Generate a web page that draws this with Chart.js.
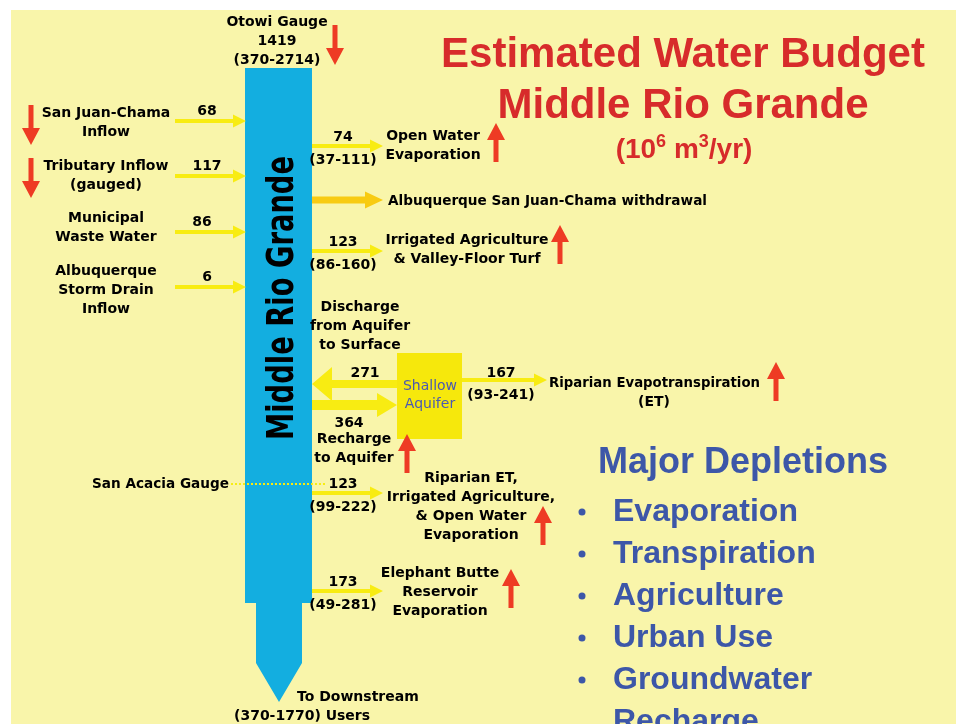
<!DOCTYPE html>
<html>
<head>
<meta charset="utf-8">
<script src="https://cdn.jsdelivr.net/npm/chart.js@4"></script>
<style>
  html, body { margin: 0; padding: 0; background: #fff; }
  #wrap { width: 956px; height: 724px; }
</style>
</head>
<body>
<div id="wrap"><canvas id="budget"></canvas></div>
<script>
// flows in 10^6 m^3/yr
const otowiName = "Otowi Gauge";
const otowiValue = 1419;
const otowiRange = "370-2714";
const downstreamRange = "370-1770";

const inflowNames = [["San Juan-Chama", "Inflow"], ["Tributary Inflow", "(gauged)"], ["Municipal", "Waste Water"], ["Albuquerque", "Storm Drain", "Inflow"]];
const inflowValues = [68, 117, 86, 6];
const inflowDeclining = [true, true, false, false];

const outflowNames = [["Open Water", "Evaporation"], ["Albuquerque San Juan-Chama withdrawal"], ["Irrigated Agriculture", "& Valley-Floor Turf"], ["Riparian ET,", "Irrigated Agriculture,", "& Open Water", "Evaporation"], ["Elephant Butte", "Reservoir", "Evaporation"]];
const outflowValues = [74, null, 123, 123, 173];
const outflowRanges = ["37-111", null, "86-160", "99-222", "49-281"];
const outflowRising = [true, false, true, true, true];

const dischargeValue = 271;
const rechargeValue = 364;
const riparianValue = 167;
const riparianRange = "93-241";

const titleLines = ["Estimated Water Budget", "Middle Rio Grande"];
const depletionsTitle = "Major Depletions";
const majorDepletions = ["Evaporation", "Transpiration", "Agriculture", "Urban Use", "Groundwater", "Recharge"];

// layout (pixel units of the hidden linear scales)
const inflowArrowY = [121, 176, 232, 287];
const inflowLabelY = [117, 170, 222, 275];
const inflowValueX = [207, 207, 202, 207];
const outflowArrowY = [146, 200, 251, 493, 591];
const outflowLabelX = [433, 388, 467, 471, 440];
const outflowLabelY = [140, 205, 244, 482, 577];
const outflowTrendX = [496, null, 560, 543, 511];
const outflowTrendTop = [123, null, 225, 506, 569];

const RED = "#EE3B24", YELLOW = "#F8EC12", GOLD = "#F8CB12", RIVER = "#13AEE0";
const PANEL = "#F9F5AA", TITLE = "#D72B2B", NAVY = "#3D57A8", BOX = "#F6E80C";
const COMIC = "bold 14px 'DejaVu Sans'";

function arrow(ctx, x1, y1, x2, y2, shaft, headW, headL, color) {
  const len = Math.hypot(x2 - x1, y2 - y1);
  const ux = (x2 - x1) / len, uy = (y2 - y1) / len;
  const px = -uy, py = ux;
  const bx = x2 - ux * headL, by = y2 - uy * headL;
  ctx.fillStyle = color;
  ctx.beginPath();
  ctx.moveTo(x1 + px * shaft / 2, y1 + py * shaft / 2);
  ctx.lineTo(bx + px * shaft / 2, by + py * shaft / 2);
  ctx.lineTo(bx + px * headW / 2, by + py * headW / 2);
  ctx.lineTo(x2, y2);
  ctx.lineTo(bx - px * headW / 2, by - py * headW / 2);
  ctx.lineTo(bx - px * shaft / 2, by - py * shaft / 2);
  ctx.lineTo(x1 - px * shaft / 2, y1 - py * shaft / 2);
  ctx.closePath();
  ctx.fill();
}

function lines(ctx, arr, x, y, lh, align, maxW) {
  ctx.textAlign = align || "center";
  arr.forEach((t, i) => {
    if (maxW) ctx.fillText(t, x, y + i * lh, maxW);
    else ctx.fillText(t, x, y + i * lh);
  });
}

const diagram = {
  id: "diagram",
  beforeDraw(chart) {
    const X = v => chart.scales.x.getPixelForValue(v);
    const Y = v => chart.scales.y.getPixelForValue(v);
    const ctx = chart.ctx;
    ctx.save();
    ctx.fillStyle = "#fff";
    ctx.fillRect(X(0), Y(0), X(956) - X(0), Y(724) - Y(0));
    ctx.fillStyle = PANEL;
    ctx.fillRect(X(11), Y(10), X(956) - X(11), Y(724) - Y(10));
    ctx.restore();
  },
  afterDraw(chart) {
    const X = v => chart.scales.x.getPixelForValue(v);
    const Y = v => chart.scales.y.getPixelForValue(v);
    const ctx = chart.ctx;
    ctx.save();
    ctx.textBaseline = "alphabetic";

    // river column
    ctx.fillStyle = RIVER;
    ctx.beginPath();
    ctx.moveTo(X(245), Y(68));
    ctx.lineTo(X(312), Y(68));
    ctx.lineTo(X(312), Y(603));
    ctx.lineTo(X(302), Y(603));
    ctx.lineTo(X(302), Y(663));
    ctx.lineTo(X(279), Y(702));
    ctx.lineTo(X(256), Y(663));
    ctx.lineTo(X(256), Y(603));
    ctx.lineTo(X(245), Y(603));
    ctx.closePath();
    ctx.fill();

    // vertical river name
    ctx.save();
    ctx.translate(X(280), Y(298));
    ctx.rotate(-Math.PI / 2);
    ctx.fillStyle = "#000";
    ctx.font = "bold 38px 'DejaVu Sans'";
    const name = "Middle Rio Grande";
    const w = ctx.measureText(name).width;
    ctx.scale(284 / w, 1);
    ctx.textAlign = "center";
    ctx.fillText(name, 0, 13);
    ctx.restore();

    ctx.font = COMIC;
    ctx.fillStyle = "#000";

    // Otowi gauge
    lines(ctx, [otowiName, String(otowiValue), "(" + otowiRange + ")"], X(277), Y(26), 19);
    arrow(ctx, X(335), Y(25), X(335), Y(65), 5, 18, 17, RED);

    // inflows
    inflowNames.forEach((nm, i) => {
      ctx.fillStyle = "#000";
      lines(ctx, nm, X(106), Y(inflowLabelY[i]), 19);
      ctx.textAlign = "center";
      ctx.fillText(String(inflowValues[i]), X(inflowValueX[i]), Y(inflowArrowY[i] - 6));
      arrow(ctx, X(175), Y(inflowArrowY[i]), X(246), Y(inflowArrowY[i]), 4, 13, 13, YELLOW);
      if (inflowDeclining[i]) {
        const top = inflowLabelY[i] - 12;
        arrow(ctx, X(31), Y(top), X(31), Y(top + 40), 5, 18, 17, RED);
      }
    });

    // outflows
    outflowNames.forEach((nm, i) => {
      const ay = outflowArrowY[i];
      ctx.fillStyle = "#000";
      if (outflowValues[i] === null) {
        arrow(ctx, X(312), Y(ay), X(383), Y(ay), 7, 17, 18, GOLD);
        ctx.fillStyle = "#000";
        lines(ctx, nm, X(outflowLabelX[i]), Y(outflowLabelY[i]), 19, "left", 319);
        return;
      }
      ctx.textAlign = "center";
      ctx.fillText(String(outflowValues[i]), X(343), Y(ay - 5));
      ctx.fillText("(" + outflowRanges[i] + ")", X(343), Y(ay + 18));
      lines(ctx, nm, X(outflowLabelX[i]), Y(outflowLabelY[i]), 19);
      arrow(ctx, X(312), Y(ay), X(383), Y(ay), 4, 13, 13, YELLOW);
      if (outflowRising[i]) {
        const top = outflowTrendTop[i];
        arrow(ctx, X(outflowTrendX[i]), Y(top + 39), X(outflowTrendX[i]), Y(top), 5, 18, 17, RED);
      }
    });

    // shallow aquifer exchange
    ctx.fillStyle = BOX;
    ctx.fillRect(X(397), Y(353), X(462) - X(397), Y(439) - Y(353));
    arrow(ctx, X(397), Y(384), X(312), Y(384), 8, 34, 20, YELLOW);
    arrow(ctx, X(312), Y(405), X(397), Y(405), 10, 24, 20, YELLOW);
    arrow(ctx, X(462), Y(380), X(547), Y(380), 4, 13, 13, YELLOW);
    arrow(ctx, X(407), Y(473), X(407), Y(434), 5, 18, 17, RED);
    arrow(ctx, X(776), Y(401), X(776), Y(362), 5, 18, 17, RED);

    ctx.fillStyle = "#000";
    lines(ctx, ["Discharge", "from Aquifer", "to Surface"], X(360), Y(311), 19);
    ctx.textAlign = "center";
    ctx.fillText(String(dischargeValue), X(365), Y(377));
    ctx.fillText(String(rechargeValue), X(349), Y(427));
    lines(ctx, ["Recharge", "to Aquifer"], X(354), Y(443), 19);
    ctx.textAlign = "center";
    ctx.fillText(String(riparianValue), X(501), Y(377));
    ctx.fillText("(" + riparianRange + ")", X(501), Y(399));
    lines(ctx, ["Riparian Evapotranspiration"], X(549), Y(387), 19, "left", 211);
    lines(ctx, ["(ET)"], X(654), Y(406), 19);

    ctx.fillStyle = "#4A59B3";
    ctx.font = "14px 'DejaVu Sans'";
    lines(ctx, ["Shallow", "Aquifer"], X(430), Y(390), 18);

    // San Acacia gauge
    ctx.fillStyle = "#000";
    ctx.font = COMIC;
    lines(ctx, ["San Acacia Gauge"], X(92), Y(488), 19, "left", 137);
    ctx.strokeStyle = YELLOW;
    ctx.lineWidth = 2;
    ctx.setLineDash([2, 2]);
    ctx.beginPath();
    ctx.moveTo(X(231), Y(484));
    ctx.lineTo(X(327), Y(484));
    ctx.stroke();
    ctx.setLineDash([]);

    // downstream
    ctx.fillStyle = "#000";
    lines(ctx, ["To Downstream"], X(297), Y(701), 19, "left");
    lines(ctx, ["(" + downstreamRange + ") Users"], X(234), Y(720), 19, "left");

    // title
    ctx.fillStyle = TITLE;
    ctx.font = "bold 42px 'Liberation Sans'";
    lines(ctx, titleLines, X(683), Y(67), 51);
    const parts = [["(10", 28, 0], ["6", 18, -11], [" m", 28, 0], ["3", 18, -11], ["/yr)", 28, 0]];
    let total = 0;
    parts.forEach(p => { ctx.font = "bold " + p[1] + "px 'Liberation Sans'"; total += ctx.measureText(p[0]).width; });
    let px = X(684) - total / 2;
    ctx.textAlign = "left";
    parts.forEach(p => {
      ctx.font = "bold " + p[1] + "px 'Liberation Sans'";
      ctx.fillText(p[0], px, Y(158 + p[2]));
      px += ctx.measureText(p[0]).width;
    });

    // major depletions
    ctx.fillStyle = NAVY;
    ctx.font = "bold 36px 'Liberation Sans'";
    ctx.textAlign = "left";
    ctx.fillText(depletionsTitle, X(598), Y(473));
    ctx.font = "bold 32px 'Liberation Sans'";
    majorDepletions.forEach((d, i) => {
      ctx.fillText(d, X(613), Y(521 + i * 42));
      if (i < 5) {
        ctx.beginPath();
        ctx.arc(X(582), Y(512 + i * 42), 3.5, 0, Math.PI * 2);
        ctx.fill();
      }
    });
    ctx.restore();
  }
};

new Chart("budget", {
  type: "scatter",
  data: { datasets: [] },
  options: {
    responsive: true,
    maintainAspectRatio: false,
    animation: false,
    layout: { padding: 0 },
    plugins: { legend: { display: false }, tooltip: { enabled: false } },
    scales: {
      x: { type: "linear", min: 0, max: 956, display: false },
      y: { type: "linear", min: 0, max: 724, reverse: true, display: false }
    }
  },
  plugins: [diagram]
});
</script>
</body>
</html>
